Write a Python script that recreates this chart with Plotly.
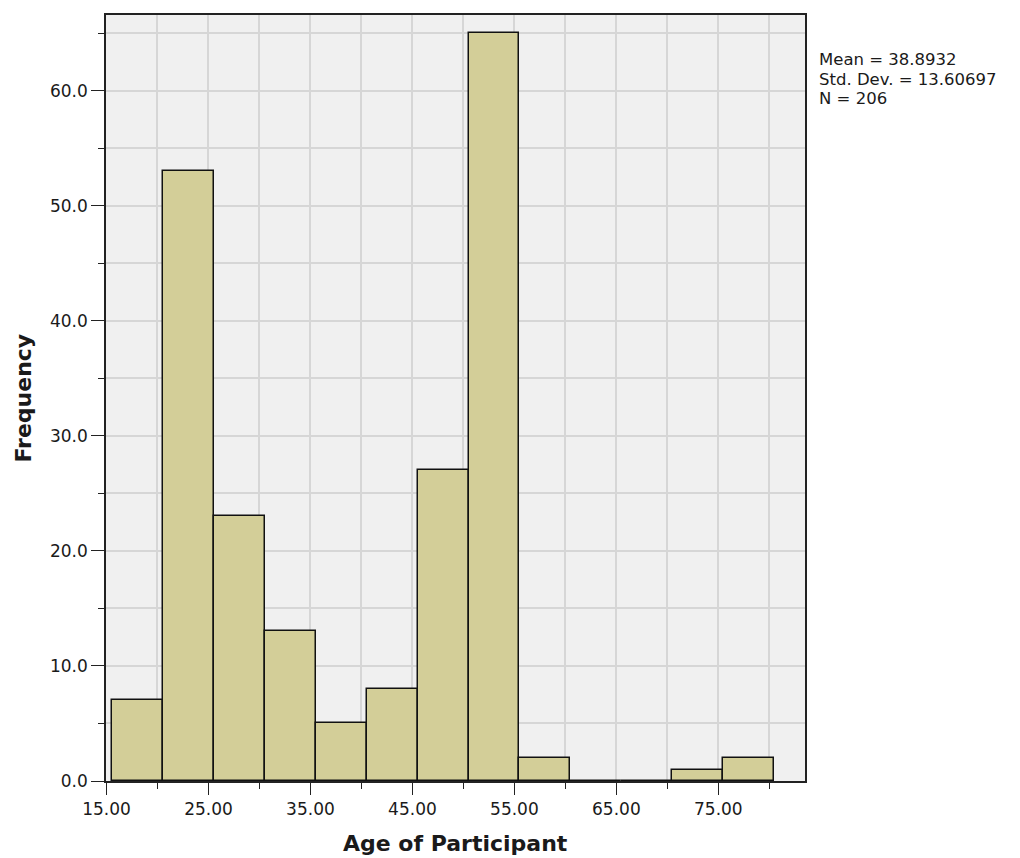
import plotly.graph_objects as go

# ---- data ----
bin_start = 15.5
bin_width = 5.0
counts = [7, 53, 23, 13, 5, 8, 27, 65, 2, 0, 0, 1, 2]
stats_lines = ["Mean = 38.8932", "Std. Dev. = 13.60697", "N = 206"]
x_title = "Age of Participant"
y_title = "Frequency"

centers = [bin_start + bin_width * (i + 0.5) for i in range(len(counts))]

# page has an 8px body margin; compensate so the plot lands where the reference has it
OFF = 8
W, H = 1020 - OFF, 858 - OFF
ml, mr, mt, mb = 105.5 - OFF, 215, 13 - OFF, 76.5
pw = W - ml - mr
ph = H - mt - mb

font_family = "DejaVu Sans"
text_color = "#1a1a1a"
grid_color = "#d6d6d6"

fig = go.Figure()
fig.add_trace(go.Bar(
    x=centers, y=counts, width=bin_width,
    marker=dict(color="#d3ce98", line=dict(color="#111111", width=1.5)),
    hoverinfo="x+y",
))

def px_to_paper_x(px):
    # px in page coordinates
    return (px - OFF - ml) / pw

def px_to_paper_y(py):
    return (H - mb - (py - OFF)) / ph

annotations = []
for i, line in enumerate(stats_lines):
    annotations.append(dict(
        text=line, xref="paper", yref="paper",
        x=px_to_paper_x(817), y=px_to_paper_y(58 + 19.5 * i),
        xanchor="left", yanchor="middle", showarrow=False,
        font=dict(family=font_family, size=16.5, color=text_color),
    ))
annotations.append(dict(
    text="<b>" + x_title + "</b>", xref="paper", yref="paper",
    x=0.5, y=px_to_paper_y(844), xanchor="center", yanchor="middle",
    showarrow=False, font=dict(family=font_family, size=22, color=text_color),
))
annotations.append(dict(
    text="<b>" + y_title + "</b>", xref="paper", yref="paper",
    x=px_to_paper_x(22), y=0.5, xanchor="center", yanchor="middle",
    textangle=-90, showarrow=False,
    font=dict(family=font_family, size=22, color=text_color),
))

fig.update_layout(
    width=W, height=H,
    margin=dict(l=ml, r=mr, t=mt, b=mb, pad=0),
    paper_bgcolor="white", plot_bgcolor="#f0f0f0",
    showlegend=False, bargap=0,
    font=dict(family=font_family, size=17, color=text_color),
    annotations=annotations,
)
fig.update_xaxes(
    range=[14.95, 83.5], tick0=15, dtick=10, tickformat=".2f",
    ticks="outside", ticklen=12, tickwidth=1.3, tickcolor="#222",
    showgrid=True, gridcolor=grid_color, gridwidth=1.5,
    minor=dict(tick0=15, dtick=5, ticks="outside", ticklen=6, tickwidth=1.3,
               tickcolor="#222", showgrid=True, gridcolor=grid_color, gridwidth=1.5),
    showline=True, linecolor="#222", linewidth=1.5, mirror=True,
    zeroline=False, tickfont=dict(size=17),
)
fig.update_yaxes(
    range=[0, 66.6], tick0=0, dtick=10, tickformat=".1f",
    ticks="outside", ticklen=13, tickwidth=1.3, tickcolor="#222",
    showgrid=True, gridcolor=grid_color, gridwidth=1.5,
    minor=dict(tick0=0, dtick=5, ticks="outside", ticklen=6, tickwidth=1.3,
               tickcolor="#222", showgrid=True, gridcolor=grid_color, gridwidth=1.5),
    showline=True, linecolor="#222", linewidth=1.5, mirror=True,
    zeroline=False, tickfont=dict(size=17),
)

fig.write_html("out.html")
